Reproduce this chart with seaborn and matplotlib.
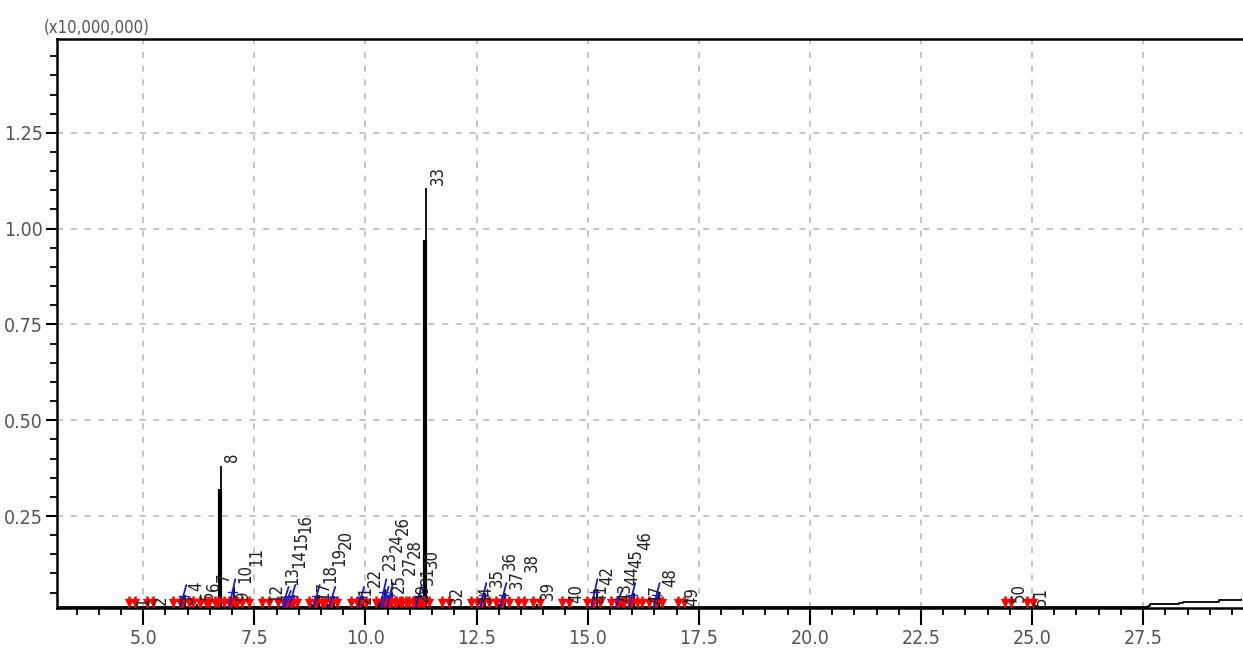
import numpy as np
import pandas as pd
import matplotlib
matplotlib.use("Agg")
import matplotlib.pyplot as plt
from matplotlib import font_manager
from matplotlib.ticker import MultipleLocator, FixedLocator
import seaborn as sns

# peak table (retention time in min, intensity in x10,000,000)
peak_no = list(range(1, 52))
peak_rt = [4.75, 5.15, 5.75, 5.95, 6.20, 6.35, 6.55, 6.75, 7.00, 7.05,
           7.30, 7.75, 8.10, 8.25, 8.30, 8.40, 8.80, 8.95, 9.15, 9.30,
           9.75, 9.95, 10.30, 10.45, 10.50, 10.60, 10.75, 10.85, 11.05, 11.25,
           11.15, 11.80, 11.37, 12.45, 12.70, 13.00, 13.15, 13.50, 13.85, 14.50,
           15.05, 15.20, 15.60, 15.75, 15.85, 16.05, 16.30, 16.60, 17.10, 24.45,
           24.95]
peak_h = [0.004, 0.008, 0.010, 0.045, 0.020, 0.008, 0.006, 0.380, 0.020, 0.065,
          0.015, 0.015, 0.010, 0.040, 0.030, 0.045, 0.020, 0.045, 0.020, 0.040,
          0.010, 0.040, 0.030, 0.060, 0.040, 0.050, 0.020, 0.030, 0.015, 0.045,
          0.010, 0.008, 1.105, 0.010, 0.050, 0.020, 0.050, 0.010, 0.020, 0.012,
          0.012, 0.060, 0.015, 0.030, 0.040, 0.050, 0.010, 0.050, 0.005, 0.015,
          0.005]
# lower, thicker part of the two big peaks
shoulder = {8: 0.32, 33: 0.97}
# peaks marked with a blue baseline tick
blue_peaks = [4, 10, 14, 15, 16, 18, 20, 22, 24, 25, 26, 30, 35, 37, 42, 44, 46, 48]

# baseline / drift of the trace
base_t = [3.06, 26.50, 27.60, 27.65, 28.30, 28.40, 28.80, 29.20, 29.73]
base_y = [0.012, 0.012, 0.014, 0.020, 0.022, 0.026, 0.026, 0.030, 0.034]

df_base = pd.DataFrame({"t": base_t, "y": base_y})

sns.set_style("white")
plt.rcParams["font.family"] = ["Liberation Sans Narrow", "DejaVu Sans"]
# condensed face if one is around
names = {f.name for f in font_manager.fontManager.ttflist}
if "Liberation Sans Narrow" not in names:
    plt.rcParams["font.stretch"] = "condensed"

fig = plt.figure(figsize=(12.43, 6.55), dpi=100)
ax = fig.add_axes([0.0459, 0.0718, 0.9535, 0.8687])

# grid
for x in np.arange(5.0, 29.0, 2.5):
    ax.axvline(x, color="#b5b5b5", lw=1.1, ls=(0, (4, 5)), zorder=0)
for y in [0.25, 0.50, 0.75, 1.00, 1.25]:
    ax.axhline(y, color="#b5b5b5", lw=1.1, ls=(0, (4, 5)), zorder=0)

sns.lineplot(data=df_base, x="t", y="y", color="black", lw=1.3, ax=ax,
             drawstyle="steps-post", zorder=3)

# peaks
ax.vlines(peak_rt, 0.012, peak_h, color="black", lw=1.3, zorder=4)
for n, s in shoulder.items():
    ax.vlines(peak_rt[n - 1] - 0.02, 0.012, s, color="black", lw=3.0, zorder=4)

# integration markers
starts = np.array(peak_rt) - 0.07
ends = np.array(peak_rt) + 0.07
for arr in (starts, ends):
    ax.vlines(arr, 0.012, 0.04, color="red", lw=1.8, zorder=5)
    ax.scatter(arr, np.full(len(arr), 0.024), marker="v", s=45, color="red",
               zorder=5, linewidths=0)

for n in blue_peaks:
    t = peak_rt[n - 1]
    top = min(peak_h[n - 1] + 0.025, 0.085)
    ax.plot([t - 0.12, t + 0.02], [0.012, top], color="#1a1acc", lw=1.3, zorder=6)
    ax.plot([t - 0.15, t + 0.05], [top * 0.6, top * 0.6], color="#1a1acc", lw=1.0, zorder=6)

# peak labels, stacked upward when they collide
fs = 12
char_h = 0.021   # vertical extent of one rotated digit, data units
placed = []
order = sorted(range(len(peak_no)), key=lambda i: peak_rt[i])
for i in order:
    n, t, h = peak_no[i], peak_rt[i], peak_h[i]
    y0 = h + 0.010
    y1 = y0 + char_h * len(str(n))
    moved = True
    while moved:
        moved = False
        for (px, pb, pt) in placed:
            if abs(px - t) < 0.38 and y0 < pt and y1 > pb:
                y0 = pt + 0.003
                y1 = y0 + char_h * len(str(n))
                moved = True
    placed.append((t, y0, y1))
    ax.text(t + 0.05, y0, str(n), rotation=90, ha="left", va="bottom",
            fontsize=fs, color="#202020", zorder=7)

ax.set_xlim(3.06, 29.73)
ax.set_ylim(0.01, 1.495)
ax.xaxis.set_major_locator(FixedLocator(np.arange(5.0, 28.0, 2.5)))
ax.xaxis.set_minor_locator(MultipleLocator(0.5))
ax.yaxis.set_major_locator(FixedLocator([0.25, 0.50, 0.75, 1.00, 1.25]))
ax.yaxis.set_minor_locator(MultipleLocator(0.05))
ax.set_xticklabels([f"{v:.1f}" for v in np.arange(5.0, 28.0, 2.5)])
ax.set_yticklabels(["0.25", "0.50", "0.75", "1.00", "1.25"])
ax.tick_params(axis="both", which="both", direction="out", colors="black",
               labelcolor="#555555", labelsize=14)
ax.tick_params(axis="x", which="major", length=12, width=1.5, pad=3,
               bottom=True)
ax.tick_params(axis="x", which="minor", length=5, width=1.3, bottom=True)
ax.tick_params(axis="y", which="major", length=8, width=1.5, pad=2, left=True)
ax.tick_params(axis="y", which="minor", length=5, width=1.3, left=True)
ax.set_xlabel("")
ax.set_ylabel("")

for side in ["left", "top", "bottom"]:
    ax.spines[side].set_color("black")
    ax.spines[side].set_linewidth(1.8)
ax.spines["right"].set_visible(False)

ax.text(-0.011, 1.004, "(x10,000,000)", transform=ax.transAxes, ha="left",
        va="bottom", fontsize=12, color="#555555")

fig.savefig("out.png", dpi=100)
